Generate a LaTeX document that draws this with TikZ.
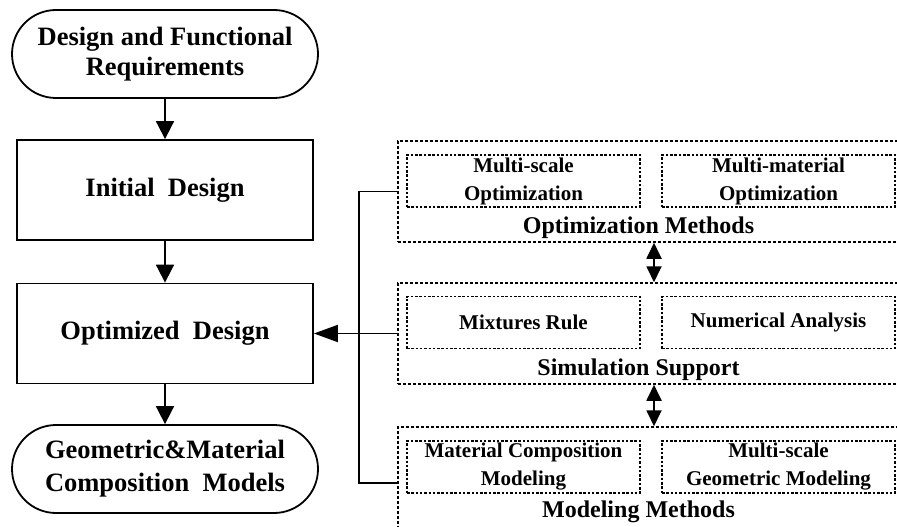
\documentclass[tikz,border=0pt]{standalone}
\usepackage{fontspec}
\setmainfont{Liberation Serif}
\usetikzlibrary{arrows.meta}
\tikzset{
  solidln/.style={line width=1.8pt},
  term/.style={draw, line width=1.8pt, rounded corners=44pt, minimum width=306pt, minimum height=88pt, inner sep=0pt, align=center},
  mainbox/.style={draw, line width=1.8pt, minimum width=296pt, minimum height=100pt, inner sep=0pt, align=center, font=\fontsize{26.5}{31}\selectfont\bfseries},
  outerbox/.style={draw, line width=1.5pt, dash pattern=on 3pt off 2pt, minimum width=507pt, inner sep=0pt},
  innerbox/.style={draw, line width=1.3pt, dash pattern=on 2.5pt off 1.8pt, minimum width=233pt, minimum height=52pt, inner sep=0pt, align=center, font=\fontsize{21}{28}\selectfont\bfseries},
  titletext/.style={anchor=base, inner sep=0pt, font=\fontsize{24}{28}\selectfont\bfseries},
  arr/.style={solidln, -{Triangle[length=18pt,width=18pt]}},
  arrh/.style={solidln, -{Triangle[length=24pt,width=17pt]}},
  darr/.style={solidln, {Triangle[length=16pt,width=15pt]}-{Triangle[length=16pt,width=15pt]}}
}
\begin{document}
\begin{tikzpicture}[x=1pt,y=-1pt]
\useasboundingbox (0,0) rectangle (897,527);
\clip (0,0) rectangle (897,527);
\fill[white] (0,0) rectangle (897,527);

% left column
\node[term, font=\fontsize{26.5}{30}\selectfont\bfseries] (req) at (165,54) {Design and Functional\\Requirements};
\node[mainbox] (init) at (165,190) {Initial\ \ Design};
\node[mainbox] (opt) at (165,333.5) {Optimized\ \ Design};
\node[term, font=\fontsize{26.5}{33}\selectfont\bfseries] (geo) at (165,469) {Geometric\&Material\\Composition\ \ Models};

\draw[arr] (req) -- (init);
\draw[arr] (init) -- (opt);
\draw[arr] (opt) -- (geo);

% right column: outer boxes
\node[outerbox, minimum height=101pt] (optm) at (651.5,191.5) {};
\node[outerbox, minimum height=101pt] (sim) at (651.5,333.5) {};
\node[outerbox, minimum height=112pt] (model) at (651.5,483) {};

% inner boxes
\node[innerbox] (ms) at (523.5,181) {Multi-scale\\Optimization};
\node[innerbox] (mm) at (778.5,181) {Multi-material\\Optimization};
\node[innerbox] (mr) at (523.5,322.5) {Mixtures Rule};
\node[innerbox] (na) at (778.5,322.5) {Numerical Analysis};
\node[innerbox] (mc) at (523.5,467) {Material Composition\\Modeling};
\node[innerbox] (mg) at (778.5,467) {Multi-scale\\Geometric Modeling};

% titles
\node[titletext] (t1) at (638.5,233) {Optimization Methods};
\node[titletext] (t2) at (638.5,375) {Simulation Support};
\node[titletext] (t3) at (638.5,517) {Modeling Methods};

% connectors
\coordinate (bk) at (359,0);
\coordinate (ax) at (654,0);
\draw[solidln] (optm.west) -- (optm.west -| bk) -- (model.west -| bk) -- (model.west);
\draw[arrh] (sim.west) -- (opt.east);
\draw[darr] (optm.south -| ax) -- (sim.north -| ax);
\draw[darr] (sim.south -| ax) -- (model.north -| ax);
\end{tikzpicture}
\end{document}
